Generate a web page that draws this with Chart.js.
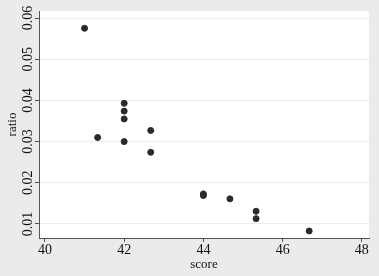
<!DOCTYPE html>
<html>
<head>
<meta charset="utf-8">
<script src="https://cdn.jsdelivr.net/npm/chart.js@4"></script>
<style>
  html, body { margin: 0; padding: 0; background: #ebebeb; }
  #wrap { width: 379px; height: 276px; }
</style>
</head>
<body>
<div id="wrap"><canvas id="chart" width="379" height="276"></canvas></div>
<script>
// scores (x) and ratios (y)
const scores = [41, 41.33, 42, 42, 42, 42, 42.67, 42.67, 44, 44, 44.67, 45.33, 45.33, 46.67];
const ratios = [0.0575, 0.031, 0.0393, 0.0374, 0.0355, 0.030, 0.0327, 0.0274, 0.0173, 0.0169, 0.0161, 0.0131, 0.0113, 0.0083];
const xTicks = [40, 42, 44, 46, 48];
const yTicks = [0.01, 0.02, 0.03, 0.04, 0.05, 0.06];

const points = scores.map((s, i) => ({ x: s, y: ratios[i] }));

// gray graph region, white plot region
const bgPlugin = {
  id: 'bg',
  beforeDraw(chart) {
    const { ctx, chartArea: a } = chart;
    ctx.save();
    ctx.fillStyle = '#ebebeb';
    ctx.fillRect(0, 0, chart.width, chart.height);
    ctx.fillStyle = '#ffffff';
    ctx.fillRect(a.left, a.top, a.right - a.left, a.bottom - a.top);
    ctx.restore();
  }
};

const serif = '"Liberation Serif", "Times New Roman", serif';
const tickFont = { family: serif, size: 14 };
const titleFont = { family: serif, size: 13 };

new Chart(document.getElementById('chart'), {
  type: 'scatter',
  data: {
    datasets: [{
      data: points,
      backgroundColor: '#2a2a2a',
      borderColor: '#2a2a2a',
      pointRadius: 3,
      pointHoverRadius: 3
    }]
  },
  options: {
    responsive: false,
    animation: false,
    layout: { padding: { left: 0, right: 10, top: 11, bottom: 0 } },
    plugins: { legend: { display: false }, tooltip: { enabled: false } },
    scales: {
      x: {
        type: 'linear',
        min: 39.85,
        max: 48.18,
        afterFit(s) { s.height = 38; },
        afterBuildTicks(s) { s.ticks = xTicks.map(v => ({ value: v })); },
        border: { color: '#555555', width: 1 },
        grid: { drawOnChartArea: false, tickLength: 4, tickColor: '#555555' },
        ticks: { color: '#111111', font: tickFont, padding: 0, maxRotation: 0 },
        title: { display: true, text: 'score', color: '#111111', font: titleFont, padding: { top: 0, bottom: 4 } }
      },
      y: {
        type: 'linear',
        min: 0.0066,
        max: 0.0617,
        afterFit(s) { s.width = 39; },
        afterBuildTicks(s) { s.ticks = yTicks.map(v => ({ value: v })); },
        border: { color: '#555555', width: 1 },
        grid: { color: '#ececec', tickLength: 4, tickColor: '#555555' },
        ticks: {
          color: '#111111', font: tickFont, padding: -6,
          minRotation: 90, maxRotation: 90, crossAlign: 'center',
          callback: v => v.toFixed(2)
        },
        title: { display: true, text: 'ratio', color: '#111111', font: titleFont, padding: { top: 5, bottom: 0 } }
      }
    }
  },
  plugins: [bgPlugin]
});
</script>
</body>
</html>
